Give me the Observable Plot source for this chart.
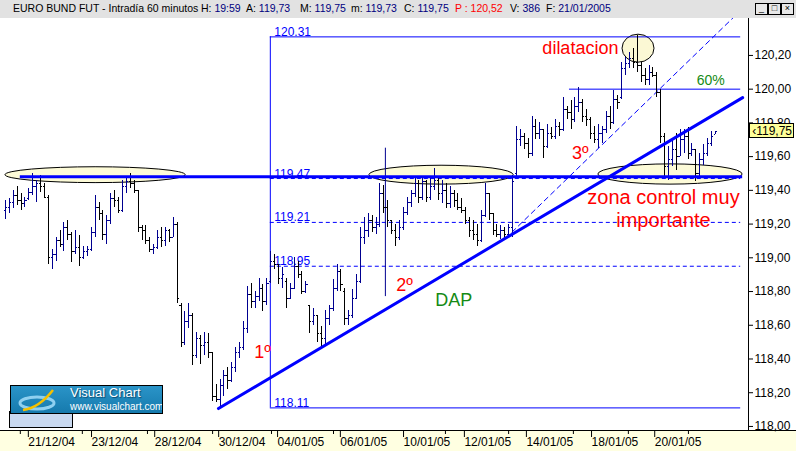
<!DOCTYPE html>
<html><head><meta charset="utf-8">
<script src="https://cdn.jsdelivr.net/npm/d3@7"></script>
<script src="https://cdn.jsdelivr.net/npm/@observablehq/plot@0.6"></script>
<style>
body{margin:0;background:#fff;font-family:"Liberation Sans",Arial,sans-serif;}
#wrap{position:relative;width:796px;height:451px;overflow:hidden;background:#fff;}
#hdr{position:absolute;left:0;top:0;width:796px;height:18px;background:#e2e2e2;font-size:10.5px;line-height:17px;white-space:nowrap;color:#000;}
#hdr span.s{position:absolute;top:0;}
#hdr .v{color:#000080;}
#hdr .r{color:#ff0000;}
.btn{position:absolute;top:3px;width:11px;height:10px;border:1px solid #000;background:#e8e8e8;font-size:9px;line-height:9px;text-align:center;}
#chart{position:absolute;left:0;top:18px;width:796px;height:433px;background:linear-gradient(to bottom,#fff 0,#fff 412px,#000 412px,#000 413px,#ffffe1 413px);}
#price{position:absolute;left:749px;width:45px;height:15px;background:#ffff99;border:1px solid #000;font-size:12px;line-height:15px;text-align:right;padding-right:1px;box-sizing:border-box;}
#logoBack{position:absolute;left:9px;top:411px;width:62px;height:16px;background:#c9d9f0;border:1px solid #000;border-top:none;}
#logo{position:absolute;left:10px;top:385px;width:151px;height:27px;background:linear-gradient(#2a94c8,#167aad);border:1px solid #000;overflow:hidden;}
#logo .a{position:absolute;left:59px;top:0px;color:#fff;font-size:13px;line-height:14px;text-shadow:1px 1px 1px #0a4a70;}
#logo .b{position:absolute;left:59px;top:15px;color:#fff;font-size:10px;line-height:11px;}
</style></head>
<body><div id="wrap">
<div id="hdr">
<span class="s" style="left:13px">EURO BUND FUT - Intradía 60 minutos</span>
<span class="s" style="left:201px">H: <span class="v">19:59</span></span>
<span class="s" style="left:246px">A: <span class="v">119,73</span></span>
<span class="s" style="left:300px">M: <span class="v">119,75</span></span>
<span class="s" style="left:351px">m: <span class="v">119,73</span></span>
<span class="s" style="left:404px">C: <span class="v">119,75</span></span>
<span class="s r" style="left:455px">P : 120,52</span>
<span class="s" style="left:510px">V: <span class="v">386</span></span>
<span class="s" style="left:546px">F: <span class="v">21/01/2005</span></span>
<div class="btn" style="left:755px">_</div><div class="btn" style="left:768px">□</div><div class="btn" style="left:781px">×</div>
</div>
<div id="chart"></div>
<div id="logoBack"></div>
<div id="logo">
<svg width="50" height="27" style="position:absolute;left:4px;top:0">
<ellipse cx="22" cy="17" rx="17" ry="6" fill="none" stroke="#8fd0f0" stroke-width="3"/>
<path d="M8 24 Q24 22 38 4" fill="none" stroke="#f5c000" stroke-width="2.5"/>
</svg>
<div class="a">Visual Chart</div>
<div class="b">www.visualchart.com</div>
</div>
<div id="price">&#8249;119,75</div>
</div>
<script>
// ---- data: hourly OHLC bars (index = bar number) ----
const barOpen = [119.28,119.30,119.33,119.37,119.34,119.32,119.35,119.39,119.42,119.44,119.42,119.36,119.00,119.02,119.10,119.08,119.18,119.14,119.04,119.06,119.00,119.04,119.05,119.15,119.30,119.26,119.14,119.22,119.35,119.34,119.28,119.42,119.45,119.44,119.40,119.18,119.16,119.10,119.05,119.06,119.12,119.10,119.16,119.12,119.20,118.72,118.50,118.62,118.66,118.42,118.52,118.48,118.50,118.44,118.18,118.16,118.24,118.30,118.27,118.35,118.44,118.47,118.58,118.78,118.74,118.77,118.82,118.74,118.86,118.98,118.96,118.88,118.86,118.76,118.82,118.95,118.90,118.80,118.72,118.62,118.66,118.55,118.52,118.64,118.70,118.82,118.92,118.80,118.64,118.66,118.76,118.86,119.12,119.16,119.22,119.18,119.20,119.38,119.30,119.22,119.16,119.12,119.18,119.27,119.33,119.38,119.44,119.36,119.45,119.36,119.42,119.46,119.38,119.40,119.32,119.38,119.34,119.30,119.28,119.22,119.16,119.14,119.10,119.25,119.38,119.26,119.16,119.14,119.16,119.14,119.18,119.50,119.70,119.72,119.68,119.62,119.78,119.74,119.76,119.66,119.74,119.72,119.78,119.76,119.88,119.86,119.82,119.90,119.92,119.84,119.82,119.74,119.70,119.74,119.76,119.84,119.80,119.94,119.95,120.12,120.15,120.18,120.16,120.14,120.08,120.06,120.10,120.08,119.98,119.72,119.54,119.58,119.64,119.60,119.70,119.72,119.62,119.64,119.50,119.58,119.62,119.68,119.73];
const barHigh = [119.34,119.35,119.40,119.42,119.38,119.36,119.41,119.50,119.46,119.49,119.44,119.37,119.05,119.12,119.16,119.21,119.22,119.15,119.16,119.13,119.07,119.07,119.18,119.37,119.33,119.28,119.25,119.38,119.40,119.36,119.46,119.48,119.50,119.46,119.40,119.19,119.19,119.12,119.08,119.16,119.18,119.18,119.17,119.24,119.21,118.73,118.68,118.73,118.67,118.56,118.54,118.56,118.55,118.44,118.25,118.28,118.33,118.35,118.38,118.47,118.50,118.62,118.83,118.85,118.80,118.88,118.84,118.88,119.04,119.02,118.96,118.94,118.88,118.85,119.00,118.98,118.92,118.86,118.72,118.70,118.66,118.59,118.69,118.72,118.87,118.96,118.93,118.82,118.69,118.81,118.90,119.18,119.24,119.26,119.25,119.24,119.44,119.43,119.34,119.22,119.20,119.22,119.30,119.36,119.40,119.48,119.46,119.48,119.46,119.48,119.53,119.48,119.46,119.44,119.42,119.40,119.38,119.35,119.30,119.24,119.22,119.20,119.28,119.44,119.38,119.26,119.20,119.19,119.18,119.20,119.48,119.78,119.76,119.74,119.71,119.84,119.82,119.80,119.76,119.79,119.77,119.82,119.80,119.95,119.90,119.93,119.95,120.01,119.94,119.88,119.83,119.78,119.79,119.78,119.87,119.90,119.99,119.96,120.16,120.19,120.22,120.24,120.32,120.16,120.12,120.14,120.13,120.10,120.00,119.74,119.66,119.70,119.74,119.76,119.76,119.77,119.68,119.64,119.62,119.67,119.71,119.75,119.75];
const barLow = [119.23,119.26,119.29,119.31,119.28,119.30,119.34,119.37,119.33,119.39,119.35,118.96,118.93,118.98,119.06,119.04,119.10,118.97,119.02,118.95,118.99,119.01,119.04,119.12,119.22,119.10,119.08,119.20,119.30,119.26,119.27,119.38,119.41,119.38,119.15,119.10,119.08,119.03,119.02,119.05,119.06,119.07,119.09,119.12,118.73,118.47,118.48,118.58,118.36,118.40,118.37,118.42,118.40,118.15,118.14,118.11,118.18,118.22,118.26,118.32,118.40,118.45,118.55,118.70,118.70,118.74,118.68,118.72,118.85,118.93,118.84,118.82,118.70,118.75,118.81,118.88,118.78,118.79,118.55,118.60,118.50,118.46,118.48,118.60,118.68,118.80,118.80,118.60,118.60,118.64,118.76,118.85,119.08,119.12,119.15,119.14,119.18,119.26,119.18,119.14,119.07,119.10,119.16,119.25,119.30,119.36,119.32,119.34,119.33,119.34,119.40,119.34,119.32,119.29,119.29,119.30,119.28,119.26,119.20,119.12,119.10,119.07,119.09,119.24,119.22,119.13,119.12,119.11,119.11,119.12,119.12,119.48,119.66,119.64,119.59,119.60,119.70,119.70,119.59,119.65,119.70,119.70,119.72,119.75,119.82,119.76,119.80,119.86,119.80,119.78,119.70,119.68,119.65,119.68,119.74,119.76,119.79,119.88,119.94,120.08,120.12,120.12,120.10,120.04,120.02,120.02,120.07,119.95,119.68,119.48,119.46,119.54,119.52,119.60,119.62,119.58,119.60,119.45,119.48,119.55,119.60,119.66,119.73];
const barClose = [119.30,119.33,119.37,119.34,119.32,119.34,119.39,119.42,119.44,119.42,119.36,119.00,119.02,119.10,119.08,119.18,119.14,119.04,119.06,119.00,119.04,119.05,119.15,119.30,119.26,119.14,119.22,119.35,119.34,119.28,119.42,119.45,119.44,119.40,119.18,119.16,119.10,119.05,119.06,119.12,119.10,119.16,119.12,119.20,118.76,118.50,118.62,118.66,118.42,118.52,118.48,118.50,118.44,118.18,118.16,118.24,118.30,118.27,118.35,118.44,118.47,118.58,118.78,118.74,118.77,118.82,118.74,118.85,118.98,118.96,118.88,118.90,118.76,118.82,118.95,118.90,118.80,118.84,118.62,118.66,118.55,118.52,118.64,118.70,118.82,118.92,118.84,118.64,118.66,118.76,118.86,119.12,119.16,119.22,119.18,119.20,119.38,119.30,119.22,119.16,119.12,119.18,119.27,119.33,119.38,119.44,119.36,119.45,119.36,119.42,119.46,119.38,119.40,119.32,119.38,119.34,119.30,119.28,119.22,119.16,119.14,119.10,119.25,119.38,119.26,119.16,119.14,119.16,119.14,119.18,119.45,119.70,119.72,119.68,119.62,119.78,119.74,119.76,119.66,119.74,119.72,119.78,119.76,119.88,119.86,119.82,119.90,119.92,119.84,119.82,119.74,119.70,119.74,119.76,119.84,119.80,119.94,119.92,120.12,120.15,120.18,120.16,120.14,120.08,120.06,120.10,120.08,119.98,119.72,119.54,119.58,119.64,119.60,119.70,119.72,119.62,119.64,119.50,119.58,119.62,119.68,119.72,119.75];

// ---- axes ----
const yTicks = [118.0,118.2,118.4,118.6,118.8,119.0,119.2,119.4,119.6,119.8,120.0,120.2];
const dateTicks = [5.6,21.8,38,54.4,69.5,85.6,101.8,117.4,133.3,150,166.2];
const dateLabels = ["21/12/04","23/12/04","28/12/04","30/12/04","04/01/05","06/01/05","10/01/05","12/01/05","14/01/05","18/01/05","20/01/05"];
const minorTicks = [3.8,19.7,36.4,53.1,68.2,84.1,112.8,129,145.6,159.7,175.1];
const lastPrice = 119.75;

// ---- annotations (bar index / price) ----
const boxLevels = [120.31, 119.47, 119.21, 118.95, 118.11];
const boxDashed = [119.47, 119.21, 118.95];
const boxSolid = [120.31, 118.11];
const boxSpan = [67.9, 188.5];
const level60 = [120.00];
const level60Span = [144.6, 188.5];
const supportLevel = [119.48];
const supportSpan = [3.8, 189];
const trendLine = [{i: 54.6, p: 118.106}, {i: 189, p: 119.95}];
const dashedTrend = [{i: 128.2, p: 119.115}, {i: 189.7, p: 120.494}];
const spikeLine = [{i: 97.4, lo: 118.77, hi: 119.65}];
const ellipseX = [23.1, 111.8, 170.5, 162.3];
const ellipseY = [119.49, 119.49, 119.494, 120.24];
const ellipseRX = [23.1, 18.5, 18.5, 4.1];
const ellipseRY = [0.047, 0.056, 0.06, 0.083];
const notes = [
  {i: 147.4, p: 120.24, t: "dilatacion", c: "#ff0000", s: 18},
  {i: 180.8, p: 120.05, t: "60%", c: "#158a15", s: 14},
  {i: 147.4, p: 119.62, t: "3º", c: "#ff0000", s: 18},
  {i: 102.3, p: 118.84, t: "2º", c: "#ff0000", s: 18},
  {i: 65.9, p: 118.44, t: "1º", c: "#ff0000", s: 18},
  {i: 114.9, p: 118.75, t: "DAP", c: "#158a15", s: 18},
  {i: 168.7, p: 119.36, t: "zona control muy", c: "#ff0000", s: 20},
  {i: 168.7, p: 119.22, t: "importante", c: "#ff0000", s: 20}
];

const bars = barOpen.map((o, i) => ({i, o, h: barHigh[i], l: barLow[i], c: barClose[i]}));
const barColor = d => d.c >= d.o ? "#000090" : "#000000";
const fmt = d => d.toFixed(2).replace(".", ",");
const labelOf = new Map(dateTicks.map((t, k) => [t, dateLabels[k]]));

function ellipseMark(index, scales) {
  const g = d3.create("svg:g");
  ellipseX.forEach((ex, k) => {
    const cx = scales.x(ex), cy = scales.y(ellipseY[k]);
    const rx = Math.abs(scales.x(ex + ellipseRX[k]) - cx);
    const ry = Math.abs(scales.y(ellipseY[k] + ellipseRY[k]) - cy);
    g.append("ellipse").attr("cx", cx).attr("cy", cy).attr("rx", rx).attr("ry", ry)
      .attr("fill", k === 3 ? "#fbf8d4" : "#fdfbd8").attr("stroke", "#000").attr("stroke-width", 1);
  });
  return g.node();
}

const chart = Plot.plot({
  width: 796, height: 433,
  marginLeft: 0, marginRight: 48, marginTop: 0, marginBottom: 21,
  x: {domain: [-1.28, 190.5], axis: null, label: null},
  y: {domain: [117.976, 120.419], axis: null, label: null},
  color: {type: "identity"},
  style: {fontFamily: "'Liberation Sans', Arial, sans-serif", fontSize: "12px", background: "transparent", overflow: "visible", color: "#000"},
  marks: [
    ellipseMark,
    Plot.ruleY(boxDashed, {y: d => d, x1: () => boxSpan[0], x2: () => boxSpan[1], stroke: "#0000ff", strokeDasharray: "4,3", strokeWidth: 1}),
    Plot.ruleY(boxSolid, {y: d => d, x1: () => boxSpan[0], x2: () => boxSpan[1], stroke: "#0000ff", strokeWidth: 1}),
    Plot.ruleX([boxSpan[0]], {x: d => d, y1: () => boxSolid[1], y2: () => boxSolid[0], stroke: "#0000ff", strokeWidth: 1}),
    Plot.ruleY(level60, {y: d => d, x1: () => level60Span[0], x2: () => level60Span[1], stroke: "#0000ff", strokeWidth: 1}),
    Plot.text(boxLevels, {x: () => boxSpan[0], y: d => d, text: d => d.toFixed(2), textAnchor: "start", lineAnchor: "bottom", dx: 4, dy: -1, fill: "#0000ff", fontSize: 12}),
    Plot.ruleX(spikeLine, {x: "i", y1: "lo", y2: "hi", stroke: "#000090", strokeWidth: 1}),
    Plot.line(dashedTrend, {x: "i", y: "p", stroke: "#0000ff", strokeWidth: 1, strokeDasharray: "5,4", clip: true}),
    Plot.ruleX(bars, {x: "i", y1: "l", y2: "h", stroke: barColor, strokeWidth: 1, shapeRendering: "crispEdges"}),
    Plot.link(bars, {x1: d => d.i - 0.45, x2: d => d.i, y1: "o", y2: "o", stroke: barColor, strokeWidth: 1, shapeRendering: "crispEdges"}),
    Plot.link(bars, {x1: d => d.i, x2: d => d.i + 0.45, y1: "c", y2: "c", stroke: barColor, strokeWidth: 1, shapeRendering: "crispEdges"}),
    Plot.ruleY(supportLevel, {y: d => d, x1: () => supportSpan[0], x2: () => supportSpan[1], stroke: "#0000ff", strokeWidth: 3}),
    Plot.line(trendLine, {x: "i", y: "p", stroke: "#0000ff", strokeWidth: 3}),
    Plot.text(notes, {x: "i", y: "p", text: "t", fill: "c", fontSize: "s", textAnchor: "middle"}),
    Plot.ruleX([190.5], {stroke: "#000", strokeWidth: 1}),
    Plot.axisY({anchor: "right", label: null, ticks: yTicks, tickSize: 4, tickPadding: 2, tickFormat: fmt, fontSize: 12, stroke: "#000"}),
    Plot.axisX({anchor: "bottom", label: null, ticks: dateTicks, tickSize: 7, tickPadding: 0, tickFormat: d => labelOf.get(d), textAnchor: "start", dx: 1, fontSize: 12}),
    Plot.axisX({anchor: "bottom", label: null, ticks: minorTicks, tickSize: 4, tickFormat: () => ""})
  ]
});
document.getElementById("chart").appendChild(chart);
const py = chart.scale("y").apply(lastPrice);
document.getElementById("price").style.top = (18 + py - 8) + "px";
</script>
</body></html>
